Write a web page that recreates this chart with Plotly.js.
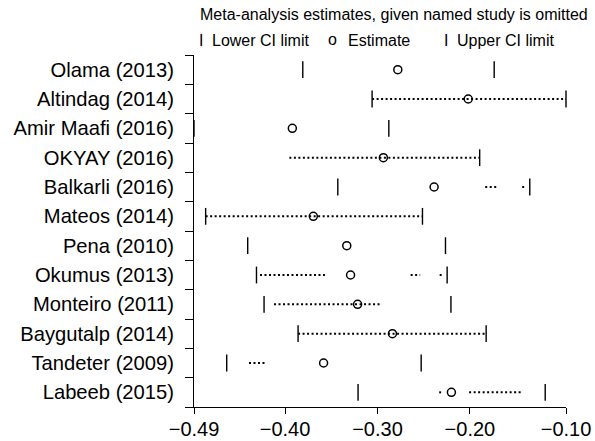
<!DOCTYPE html>
<html>
<head>
<meta charset="utf-8">
<script src="https://cdn.plot.ly/plotly-3.0.1.min.js"></script>
<style>html,body{margin:0;padding:0;background:#fff;}#chart{width:595px;height:441px;}</style>
</head>
<body>
<div id="chart"></div>
<script>
// ---- data ----
var studies = ["Olama (2013)", "Altindag (2014)", "Amir Maafi (2016)", "OKYAY (2016)",
  "Balkarli (2016)", "Mateos (2014)", "Pena (2010)", "Okumus (2013)",
  "Monteiro (2011)", "Baygutalp (2014)", "Tandeter (2009)", "Labeeb (2015)"];
var lowerCI = [-0.3808, -0.3058, -0.4985, null, -0.3429, -0.4859, -0.4404, -0.4309,
  -0.4227, -0.3859, -0.4631, -0.3210];
var estimate = [-0.2780, -0.2018, -0.3921, -0.2936, -0.2387, -0.3694, -0.3332, -0.3291,
  -0.3215, -0.2838, -0.3583, -0.2200];
var upperCI = [-0.1737, -0.0960, -0.2877, -0.1894, -0.1352, -0.2513, -0.2264, -0.2246,
  -0.2205, -0.1824, -0.2527, -0.1185];
var dotSegments = [
  [],
  [[-0.3058, -0.0960]],
  [],
  [[-0.3953, -0.1894]],
  [[-0.1834, -0.1704], [-0.1434, -0.1401]],
  [[-0.4859, -0.2513]],
  [],
  [[-0.4271, -0.3542], [-0.2641, -0.2538], [-0.2327, -0.2305]],
  [[-0.4119, -0.2950]],
  [[-0.3859, -0.1824]],
  [[-0.4390, -0.4195]],
  [[-0.2332, -0.2311], [-0.2008, -0.1434]]
];
var xTickVals = [-0.4985, -0.40, -0.30, -0.20, -0.096];
var xTickText = ["\u22120.49", "\u22120.40", "\u22120.30", "\u22120.20", "\u22120.10"];
var legendTitle = "Meta-analysis estimates, given named study is omitted";
var legendLabels = ["Lower CI limit", "Estimate", "Upper CI limit"];

// ---- build ----
var rows = studies.map(function (s, i) { return i; });
var segX = [], segY = [];
dotSegments.forEach(function (segs, i) {
  segs.forEach(function (s) { segX.push(s[0], s[1], null); segY.push(i, i, null); });
});
var font = "Liberation Sans, Arial, sans-serif";

var traces = [
  { type: "scatter", mode: "lines", x: segX, y: segY, connectgaps: false,
    line: { color: "#000", width: 2, dash: "2px,2.5px" }, hoverinfo: "skip", showlegend: false },
  { type: "scatter", mode: "markers", x: lowerCI, y: rows, cliponaxis: false, showlegend: false,
    marker: { symbol: "line-ns", size: 12, line: { color: "#000", width: 1.4 } } },
  { type: "scatter", mode: "markers", x: upperCI, y: rows, cliponaxis: false, showlegend: false,
    marker: { symbol: "line-ns", size: 12, line: { color: "#000", width: 1.4 } } },
  { type: "scatter", mode: "markers", x: estimate, y: rows, cliponaxis: false, showlegend: false,
    marker: { symbol: "circle-open", size: 8, color: "#000", line: { color: "#000", width: 1.5 } } },
  // invisible trace to host the boundary-tick axis
  { type: "scatter", mode: "markers", x: [xTickVals[0]], y: [0], yaxis: "y2",
    marker: { opacity: 0 }, hoverinfo: "skip", showlegend: false }
];

var yRange = [studies.length - 0.5, -0.5];
var boundaries = studies.map(function (s, i) { return i - 0.5; }).concat([studies.length - 0.5]);

function px2paperX(px) { return (px - 194) / 372; }
function px2paperY(py) { return (406.7 - py) / 351.7; }

var annFont = { family: font, size: 16, color: "#000" };
var annotations = [
  { text: legendTitle, x: px2paperX(198), y: px2paperY(15), xanchor: "left", yanchor: "middle" },
  { text: "I", x: px2paperX(201), y: px2paperY(41), xanchor: "center", yanchor: "middle" },
  { text: legendLabels[0], x: px2paperX(210), y: px2paperY(41), xanchor: "left", yanchor: "middle" },
  { text: "o", x: px2paperX(332), y: px2paperY(40), xanchor: "center", yanchor: "middle" },
  { text: legendLabels[1], x: px2paperX(346), y: px2paperY(41), xanchor: "left", yanchor: "middle" },
  { text: "I", x: px2paperX(446), y: px2paperY(41), xanchor: "center", yanchor: "middle" },
  { text: legendLabels[2], x: px2paperX(455), y: px2paperY(41), xanchor: "left", yanchor: "middle" }
].map(function (a) {
  a.xref = "paper"; a.yref = "paper"; a.showarrow = false; a.font = annFont; return a;
});

var layout = {
  width: 595, height: 441,
  margin: { l: 194, r: 29, t: 55, b: 34.3, pad: 0 },
  paper_bgcolor: "#fff", plot_bgcolor: "#fff",
  showlegend: false,
  font: { family: font, color: "#000" },
  xaxis: {
    range: [xTickVals[0], xTickVals[xTickVals.length - 1]],
    tickmode: "array", tickvals: xTickVals, ticktext: xTickText,
    ticks: "outside", ticklen: 6, tickwidth: 1, tickcolor: "#000",
    ticklabelstandoff: -2,
    showline: true, linecolor: "#000", linewidth: 1,
    showgrid: false, zeroline: false,
    tickfont: { family: font, size: 20, color: "#000" }
  },
  yaxis: {
    range: yRange, tickmode: "array", tickvals: rows, ticktext: studies,
    ticks: "", ticklabelstandoff: 19,
    showline: false, showgrid: false, zeroline: false,
    tickfont: { family: font, size: 20.2, color: "#000" }
  },
  yaxis2: {
    range: yRange, overlaying: "y", side: "left",
    tickmode: "array", tickvals: boundaries,
    ticks: "outside", ticklen: 8, tickwidth: 1, tickcolor: "#000",
    showticklabels: false, showline: true, linecolor: "#000", linewidth: 1,
    showgrid: false, zeroline: false
  },
  annotations: annotations
};

Plotly.newPlot("chart", traces, layout, { staticPlot: true, displayModeBar: false });
</script>
</body>
</html>
